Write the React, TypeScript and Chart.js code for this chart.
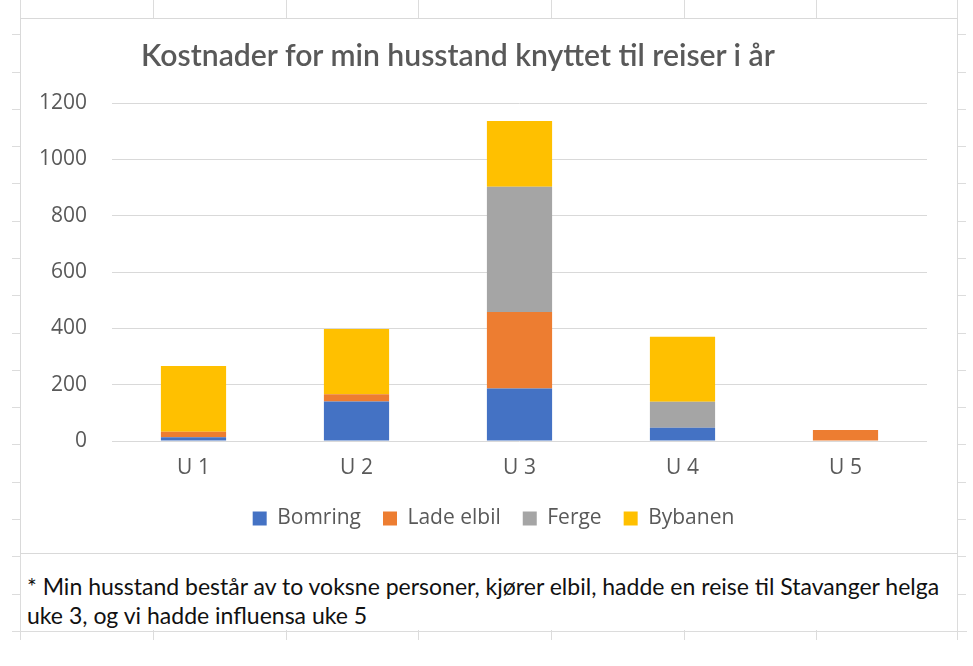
import React, { useEffect, useRef } from 'react';
import { Chart, registerables } from 'chart.js';

Chart.register(...registerables);

// ---- data ----
const categories = ['U 1', 'U 2', 'U 3', 'U 4', 'U 5'];
const seriesNames = ['Bomring', 'Lade elbil', 'Ferge', 'Bybanen'];
const bomring = [13, 140, 186, 47, 0];
const ladeElbil = [20, 26, 272, 0, 39];
const ferge = [0, 0, 445, 92, 0];
const bybanen = [233, 232, 233, 231, 0];
const yTickValues = [0, 200, 400, 600, 800, 1000, 1200];
const chartTitle = 'Kostnader for min husstand knyttet til reiser i år';
const footnoteLines = [
  '* Min husstand består av to voksne personer, kjører elbil, hadde en reise til Stavanger helga',
  'uke 3, og vi hadde influensa uke 5',
];

// ---- styles ----
const seriesColors = ['#4472C4', '#ED7D31', '#A5A5A5', '#FFC000'];
const textGray = '#595959';
const axisFont = '"Open Sans", "Noto Sans", sans-serif';
const cellFontFamily = 'Lato';
const cellFont = 'Lato, "Open Sans", sans-serif';
const sheetLine = '#dcdcdc';

const colXs = [20, 153, 286, 418, 551, 684, 816, 957];
const rowYs = Array.from({ length: 17 }, (_, k) => Math.round(34.3 + 37.28 * k));

function fitSize(text: string, family: string, weight: string, target: number, fallback: number) {
  try {
    const c = document.createElement('canvas').getContext('2d');
    if (!c) return fallback;
    c.font = `${weight} 100px ${family}`;
    const w = c.measureText(text).width;
    return w > 0 ? (100 * target) / w : fallback;
  } catch (e) {
    return fallback;
  }
}

function SheetGrid() {
  const els: React.ReactNode[] = [];
  colXs.forEach((x, i) => {
    const edge = i === 0 || i === colXs.length - 1;
    els.push(
      <div key={'ct' + i} style={{ position: 'absolute', left: x, top: 0, width: 1, height: edge ? 632 : 18, background: sheetLine }} />
    );
    els.push(
      <div key={'cb' + i} style={{ position: 'absolute', left: x, top: 630, width: 1, height: 10, background: sheetLine }} />
    );
  });
  rowYs.forEach((y, i) => {
    if (y >= 628) {
      els.push(<div key={'rf' + i} style={{ position: 'absolute', left: 12, top: y, width: 955, height: 1, background: sheetLine }} />);
    } else {
      els.push(<div key={'rl' + i} style={{ position: 'absolute', left: 12, top: y, width: 8, height: 1, background: sheetLine }} />);
      els.push(<div key={'rr' + i} style={{ position: 'absolute', left: 958, top: y, width: 8, height: 1, background: sheetLine }} />);
    }
  });
  return <>{els}</>;
}

const legendShift = {
  id: 'legendShift',
  afterLayout(chart: any) {
    const l = chart.legend;
    if (l) {
      l.left += 15;
      l.right += 15;
    }
  },
};

function StackedChart() {
  const ref = useRef<HTMLCanvasElement | null>(null);
  useEffect(() => {
    if (!ref.current) return;
    const dataArrays = [bomring, ladeElbil, ferge, bybanen];
    const chart = new Chart(ref.current, {
      type: 'bar',
      data: {
        labels: categories,
        datasets: seriesNames.map((name, i) => ({
          label: name,
          data: dataArrays[i],
          backgroundColor: seriesColors[i],
          borderWidth: 0,
          categoryPercentage: 1,
          barPercentage: 0.4,
        })),
      },
      plugins: [legendShift],
      options: {
        responsive: false,
        animation: false,
        devicePixelRatio: 1,
        layout: { padding: { top: 85, right: 31, bottom: 15, left: 10 } },
        plugins: {
          title: { display: false },
          tooltip: { enabled: false },
          legend: {
            display: true,
            position: 'bottom',
            labels: {
              boxWidth: 14,
              boxHeight: 14,
              padding: 22,
              color: textGray,
              font: { family: axisFont, size: 21 },
            },
          },
        },
        scales: {
          x: {
            stacked: true,
            grid: { display: false, drawTicks: false },
            border: { display: false },
            ticks: { color: textGray, font: { family: axisFont, size: 21 }, padding: 14 },
            afterFit: (s: any) => { s.height = 45; },
          },
          y: {
            stacked: true,
            min: 0,
            max: 1200,
            afterBuildTicks: (s: any) => { s.ticks = yTickValues.map((v) => ({ value: v })); },
            grid: { color: '#d9d9d9', lineWidth: 1, drawTicks: false },
            border: { display: false },
            ticks: {
              color: textGray,
              font: { family: axisFont, size: 21 },
              padding: 25,
              callback: (v: any) => String(v),
            },
            afterFit: (s: any) => { s.width = 82; },
          },
        },
      },
    });
    return () => chart.destroy();
  }, []);
  return <canvas ref={ref} width={938} height={536} style={{ position: 'absolute', left: 20, top: 18, width: 938, height: 536 }} />;
}

export default function App() {
  const titleSize = fitSize(chartTitle, cellFontFamily, '600', 636, 28);
  const noteSize = fitSize(footnoteLines[0], cellFontFamily, '400', 915, 21);
  return (
    <div style={{ position: 'fixed', left: 0, top: 0, width: 973, height: 666, background: '#fff', overflow: 'hidden' }}>
      <SheetGrid />
      <div style={{ position: 'absolute', left: 20, top: 18, width: 938, height: 536, boxSizing: 'border-box', border: '1px solid #d9d9d9', background: '#fff' }} />
      <StackedChart />
      <div style={{ position: 'absolute', left: 0, width: 916, top: 36, textAlign: 'center', fontFamily: cellFont, fontWeight: 600, fontSize: titleSize, color: textGray, lineHeight: '36px', whiteSpace: 'nowrap' }}>
        {chartTitle}
      </div>
      <div style={{ position: 'absolute', left: 27, top: 572, fontFamily: cellFont, fontSize: noteSize, color: '#111', lineHeight: '29px', whiteSpace: 'nowrap' }}>
        {footnoteLines.map((l, i) => <div key={i}>{l}</div>)}
      </div>
    </div>
  );
}
